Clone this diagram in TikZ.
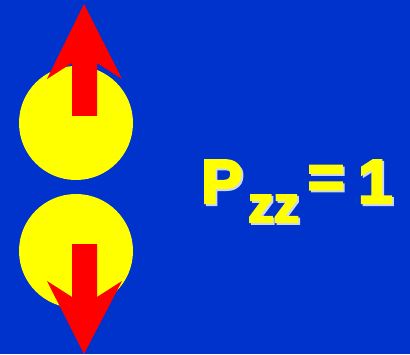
\documentclass[tikz,border=0pt]{standalone}
\usepackage{fontspec}
\setmainfont{Liberation Sans}
\newfontfamily\heavyfont[FakeBold=4]{Liberation Sans Bold}
\definecolor{bgblue}{RGB}{0,51,204}
\definecolor{ylw}{RGB}{255,255,0}
\definecolor{rd}{RGB}{255,0,0}
\newcommand{\glowtxt}[1]{\makebox[0pt][l]{\hspace{1.8pt}\raisebox{-1.8pt}{\color{white!80!bgblue}#1}}#1}
\begin{document}
\begin{tikzpicture}[x=1pt,y=1pt,
  ball/.style={fill=ylw},
  spinarrow/.style={fill=rd},
  bigtxt/.style={inner sep=0pt,text=ylw,font=\fontsize{62}{62}\selectfont\heavyfont},
  subtxt/.style={inner sep=0pt,text=ylw,font=\fontsize{51}{51}\selectfont\heavyfont}]
\fill[bgblue] (0,0) rectangle (410,354);
\useasboundingbox (0,0) rectangle (410,354);
% balls
\fill[ball] (76,231) circle (57);
\fill[ball] (76,103) circle (57);
% spin up arrow
\fill[spinarrow] (84,350) -- (122,275) -- (97,291) -- (97,238) -- (72,238) -- (72,291) -- (47,275) -- cycle;
% spin down arrow
\fill[spinarrow] (84,0) -- (122,73) -- (97,57) -- (97,110) -- (72,110) -- (72,57) -- (47,73) -- cycle;
% text
\node[bigtxt,anchor=base west] (P) at (201,151) {\glowtxt{P}};
\node[subtxt,anchor=base west] (zz) at (248,132) {\glowtxt{zz}};
\node[bigtxt,anchor=center] (eq) at (326,171) {\glowtxt{=}};
\node[bigtxt,anchor=base west] (one) at (358,151) {\glowtxt{1}};
\end{tikzpicture}
\end{document}
